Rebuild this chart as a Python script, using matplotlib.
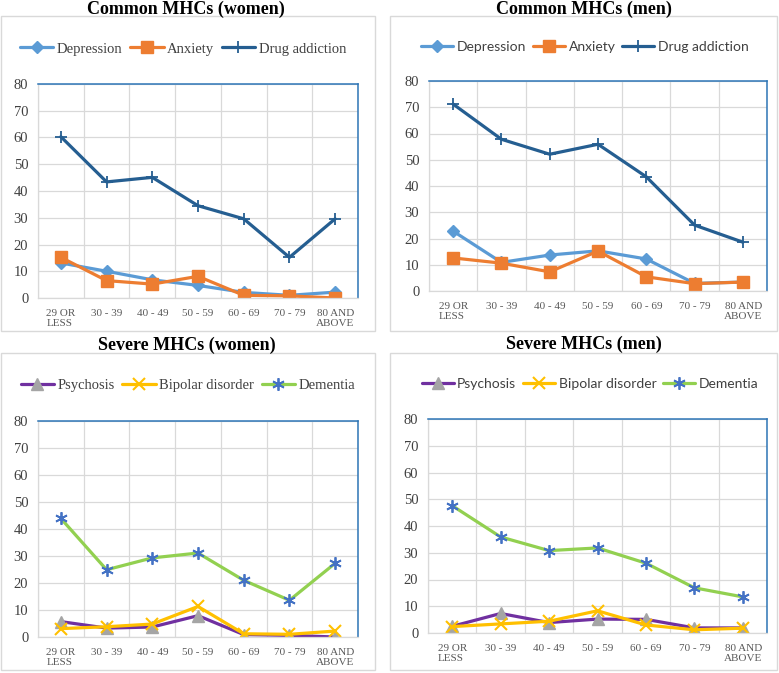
import matplotlib
matplotlib.use("Agg")
import matplotlib.pyplot as plt
from matplotlib.patches import Rectangle

# ---- data ----
age_groups = ["29 OR\nLESS", "30 - 39", "40 - 49", "50 - 59", "60 - 69", "70 - 79", "80 AND\nABOVE"]

women_depression = [13.1, 10.0, 6.8, 4.7, 2.1, 1.0, 2.2]
women_anxiety = [15.2, 6.5, 5.2, 8.1, 1.0, 0.8, 0.0]
women_drug = [60.3, 43.4, 45.1, 34.5, 29.6, 15.2, 29.6]

men_depression = [22.8, 10.9, 13.7, 15.3, 12.2, 2.9, 3.4]
men_anxiety = [12.6, 10.6, 7.3, 15.2, 5.4, 2.8, 3.4]
men_drug = [71.2, 57.8, 52.1, 55.9, 43.5, 25.1, 18.6]

women_psychosis = [5.7, 3.3, 3.7, 7.9, 0.9, 0.6, 0.0]
women_bipolar = [3.1, 3.8, 4.8, 11.3, 1.2, 1.0, 2.2]
women_dementia = [43.9, 24.9, 29.3, 31.1, 21.0, 13.6, 27.3]

men_psychosis = [2.5, 7.3, 3.9, 5.2, 5.1, 1.9, 1.9]
men_bipolar = [2.4, 3.4, 4.4, 8.3, 3.0, 1.2, 1.8]
men_dementia = [47.6, 35.9, 30.8, 31.8, 26.1, 16.9, 13.5]

yticks = list(range(0, 81, 10))

W, H = 779, 673
SERIF = "Liberation Serif"
SANS = "Lato"
GRID = "#d9d9d9"
EDGE = "#2e75b6"
TXT = "#404040"

common_styles = [
    dict(label="Depression", color="#5b9bd5", marker="D", ms=6, mfc="#5b9bd5", mec="#5b9bd5"),
    dict(label="Anxiety", color="#ed7d31", marker="s", ms=8, mfc="#ed7d31", mec="#ed7d31"),
    dict(label="Drug addiction", color="#255e91", marker="+", ms=9, mfc="#255e91", mec="#255e91", mew=1.3),
]
severe_styles = [
    dict(label="Psychosis", color="#7030a0", marker="^", ms=8, mfc="#a5a5a5", mec="#a5a5a5"),
    dict(label="Bipolar disorder", color="#ffc000", marker="x", ms=8, mfc="#ffc000", mec="#ffc000", mew=1.5),
    dict(label="Dementia", color="#92d050", marker=(6, 2, 0), ms=9, mfc="#4472c4", mec="#4472c4", mew=1.3),
]


def fig_rect(x0, y0, x1, y1):
    return [x0 / W, 1 - y1 / H, (x1 - x0) / W, (y1 - y0) / H]


fig = plt.figure(figsize=(W / 100, H / 100), dpi=100)
fig.patch.set_facecolor("white")


def panel(box, plot, title, title_xy, legend_xy, series, styles, legend_font):
    x0, y0, x1, y1 = box
    fig.patches.append(Rectangle((x0 / W, 1 - y1 / H), (x1 - x0) / W, (y1 - y0) / H,
                                 transform=fig.transFigure, facecolor="none",
                                 edgecolor="#d9d9d9", lw=1.0, zorder=-1))
    fig.text(title_xy[0] / W, 1 - title_xy[1] / H, title, ha="center", va="center",
             family=SERIF, fontsize=13, fontweight="bold")

    ax = fig.add_axes(fig_rect(*plot))
    x = range(len(age_groups))
    for vals, st in zip(series, styles):
        ax.plot(x, vals, lw=2.3, solid_capstyle="round", **st)

    ax.set_xlim(-0.5, len(age_groups) - 0.5)
    ax.set_ylim(0, 80)
    ax.set_yticks(yticks, labels=[str(v) for v in yticks],
                  family=SERIF, fontsize=10.5, color=TXT)
    ax.set_xticks(list(x))
    labels = ax.set_xticklabels(age_groups, family=SERIF, fontsize=8, color="#595959",
                                linespacing=1.1)
    labels[0].set_multialignment("left")
    labels[-1].set_multialignment("right")
    ax.tick_params(axis="x", length=0, pad=8)
    ax.tick_params(axis="y", length=0, pad=7)

    ax.set_xticks([i - 0.5 for i in range(len(age_groups) + 1)], minor=True)
    ax.tick_params(which="minor", length=0)
    ax.grid(True, which="minor", axis="x", color=GRID, lw=0.9)
    ax.grid(True, which="major", axis="y", color=GRID, lw=0.9)
    ax.set_axisbelow(True)
    for side in ("left", "bottom"):
        ax.spines[side].set_color(GRID)
        ax.spines[side].set_linewidth(0.9)
    for side in ("top", "right"):
        ax.spines[side].set_color(EDGE)
        ax.spines[side].set_linewidth(1.1)

    ax.legend(loc="center", bbox_to_anchor=(legend_xy[0] / W, 1 - legend_xy[1] / H),
              bbox_transform=fig.transFigure, ncol=3, frameon=False,
              handlelength=2.3, handletextpad=0.25, columnspacing=0.5,
              prop=legend_font, labelcolor="#404040")
    return ax


panel((1, 16, 375, 331), (38, 84, 358, 298), "Common MHCs (women)", (186, 9), (183, 49),
      [women_depression, women_anxiety, women_drug], common_styles,
      dict(family=SERIF, size=10.5))
panel((390, 16, 777, 331), (429, 81, 767, 291), "Common MHCs (men)", (584, 9), (585, 47),
      [men_depression, men_anxiety, men_drug], common_styles,
      dict(family=SANS, size=10))
panel((1, 353, 375, 670), (38, 421, 358, 637), "Severe MHCs (women)", (187, 345), (188, 385),
      [women_psychosis, women_bipolar, women_dementia], severe_styles,
      dict(family=SERIF, size=10.5))
panel((390, 353, 777, 670), (428, 419, 767, 633), "Severe MHCs (men)", (584, 344), (590, 384),
      [men_psychosis, men_bipolar, men_dementia], severe_styles,
      dict(family=SANS, size=10))

fig.savefig("out.png", dpi=100, facecolor="white")
